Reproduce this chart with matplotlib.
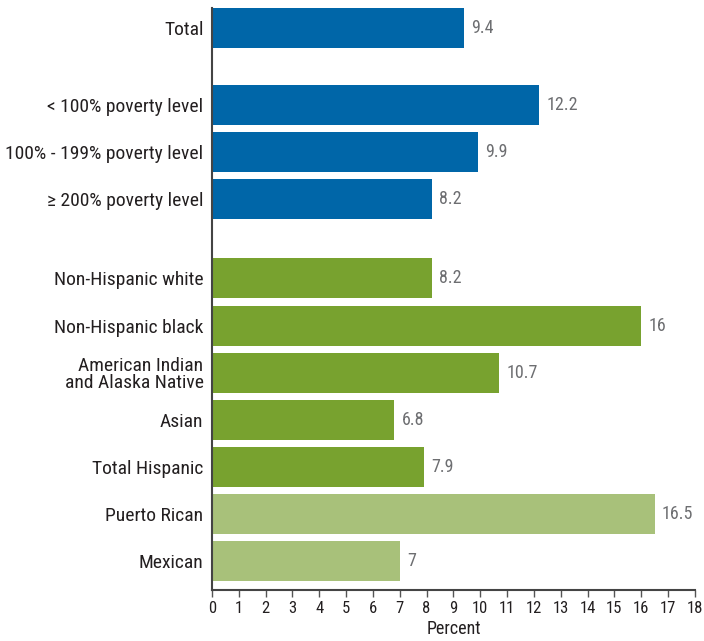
import matplotlib
matplotlib.use("Agg")
import matplotlib.pyplot as plt
from matplotlib import font_manager

names = {f.name for f in font_manager.fontManager.ttflist}
fam = [n for n in ["Liberation Sans Narrow", "Roboto Condensed", "DejaVu Sans"] if n in names]
plt.rcParams['font.family'] = fam + ['DejaVu Sans']

categories = ["Total", "< 100% poverty level", "100% - 199% poverty level", "\u2265 200% poverty level",
              "Non-Hispanic white", "Non-Hispanic black", "American Indian\nand Alaska Native",
              "Asian", "Total Hispanic", "Puerto Rican", "Mexican"]
values = [9.4, 12.2, 9.9, 8.2, 8.2, 16, 10.7, 6.8, 7.9, 16.5, 7]
value_labels = ["9.4", "12.2", "9.9", "8.2", "8.2", "16", "10.7", "6.8", "7.9", "16.5", "7"]
groups = ["blue", "blue", "blue", "blue", "green", "green", "green", "green", "green", "light", "light"]
positions = [11.32, 9.68, 8.68, 7.68, 6, 5, 4, 3, 2, 1, 0]

colors = {"blue": "#0066a8", "green": "#78a22f", "light": "#a8c17a"}

fig = plt.figure(figsize=(7.04, 6.41), dpi=100)
ax = fig.add_axes([0.301, 0.0796, 0.686, 0.908])

ax.barh(positions, values, height=0.85, color=[colors[g] for g in groups], zorder=2)
for p, v, lab in zip(positions, values, value_labels):
    ax.text(v + 0.27, p, lab, va="center", ha="left", fontsize=13, color="#6d6e71")

ax.set_xlim(0, 18)
ax.set_ylim(-0.62, 11.75)
ax.set_xticks(range(0, 19))
ax.set_yticks(positions)
ax.set_yticklabels(categories, fontsize=14, color="#231f20", linespacing=0.95)
ax.tick_params(axis="y", length=0, pad=6)
ax.tick_params(axis="x", direction="out", length=5, width=1, color="#555555", labelsize=12, labelcolor="#231f20", pad=3)
for lbl in ax.get_yticklabels():
    lbl.set_multialignment("right")
for s in ["top", "right"]:
    ax.spines[s].set_visible(False)
for s in ["left", "bottom"]:
    ax.spines[s].set_color("#444444")
    ax.spines[s].set_linewidth(1.5)
ax.set_xlabel("Percent", fontsize=13, color="#231f20", labelpad=3)

fig.savefig("out.png", dpi=100)
